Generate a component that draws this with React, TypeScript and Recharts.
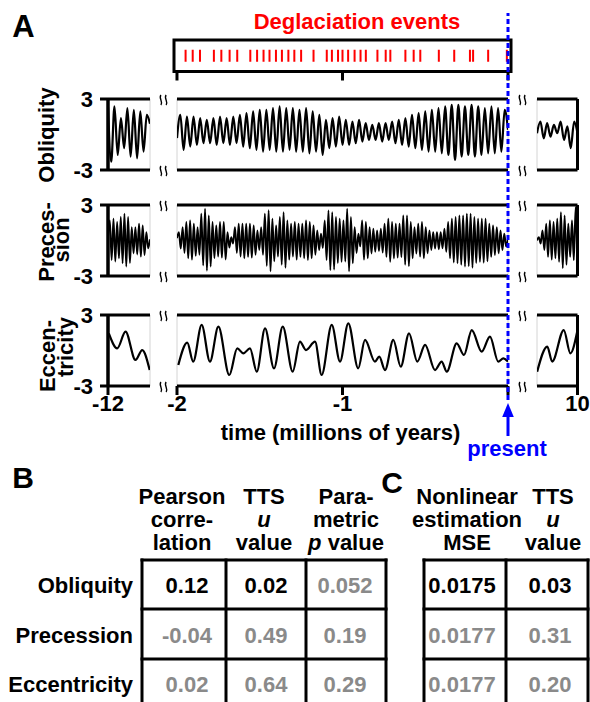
import React from "react";
import {
  LineChart,
  Line,
  ScatterChart,
  Scatter,
  XAxis,
  YAxis,
  ReferenceLine,
  ReferenceArea,
} from "recharts";

const FONT = "'Liberation Sans', Arial, Helvetica, sans-serif";
const GRAY = "#8a8a8a";
const BLUE = "#0000ff";
const RED = "#ff0000";

// successive peaks / troughs (standardised units)
const obliquityEarly = [2.3, -2.3, 2.37, -1.73, 1.38, -1.16, 2.23, -1.87, 2.09, -2.01, 1.95, -1.45, 1.67, 0.9];
const obliquityRecent = [
  -0.3,
  1.67, -1.3, 1.52, -1.02, 1.52, -0.88, 1.38, -0.74, 1.24, -0.74, 1.38, -0.88, 1.52, -0.74, 1.38, -0.88,
  1.52, -0.74, 1.67, -1.02, 1.81, -1.16, 1.95, -1.3, 2.09, -1.45, 2.09, -1.3, 2.23, -1.45, 2.37, -1.45,
  2.23, -1.3, 2.23, -1.45, 2.09, -1.45, 2.23, -1.59, 1.95, -1.45, 1.67, -1.73, 1.24, -1.16, 1.38, -1.02,
  1.52, -0.88, 1.24, -0.88, 1.1, -0.74, 1.24, -0.6, 0.96, -0.46, 0.82, -0.46, 0.96, -0.6, 0.96, -0.46,
  1.1, -0.74, 1.24, -0.88, 1.38, -1.02, 1.67, -1.16, 1.81, -1.3, 1.95, -1.45, 2.09, -1.45, 2.23, -1.59,
  2.37, -1.73, 2.51, -2.15, 2.51, -1.87, 2.37, -1.73, 2.51, -1.87, 2.37, -1.73, 2.23, -1.59, 2.37, -1.59,
  2.23, -1.45, 2.09, 0.4,
];
const obliquityFuture = [0.11, 1.1, -0.32, 0.96, -0.18, 0.82, 0.11, 1.1, -0.46, 0.68, -1.16, 1.1, 0.11];

const precessionEarly = [
  0.3, 1.7, -1.65, 1.84, -1.78, 1.56, -1.5, 1.98, -1.92, 2.26, -2.2, 1.98, -1.9, 1.13, -1.1, 1.13, -1.18,
  1.42, -1.36, 1.27, -1.22, 0.71, -0.66, 0.1,
];
const precessionRecent = [
  0.2,
  0.71, -0.68, 1.13, -1.05, 1.56, -1.5, 1.7, -1.62, 1.42, -1.3, 1.13, -1.2, 2.26, -2.1, 2.69, -2.55,
  2.12, -2.2, 1.56, -1.48, 1.27, -1.35, 1.56, -1.45, 1.56, -1.6, 0.71, -0.6, 0.28, -0.25, 1.13, -1.05,
  1.42, -1.35, 1.42, -1.5, 1.42, -1.38, 1.42, -1.45, 1.27, -1.2, 0.85, -0.8, 1.13, -1.2, 2.26, -2.15,
  2.55, -2.6, 1.84, -1.75, 1.27, -1.35, 1.98, -2.05, 2.4, -2.3, 1.7, -1.62,
  1.42, -1.35, 1.56, -1.62, 1.42, -1.38, 1.42, -1.5, 1.7, -1.65, 1.56, -1.5, 1.27, -1.2, 0.85, -0.8,
  0.57, -0.62, 1.7, -1.65, 2.55, -2.5, 2.4, -2.45, 1.98, -1.9, 1.84, -1.8, 1.7, -1.78, 2.69, -2.6,
  1.98, -1.92, 1.13, -1.05, 0.57, -0.5, 1.7, -1.62, 1.56, -1.5, 1.13, -1.1, 0.99, -0.95, 0.85, -0.9,
  0.99, -1.02, 1.42, -1.38, 1.84, -1.8, 1.56, -1.52, 1.42, -1.45, 1.42, -1.4, 2.12, -2.05, 2.12, -2.18,
  1.56, -1.5, 1.13, -1.1, 1.42, -1.36, 1.56, -1.5, 1.13, -1.08, 0.85, -0.8, 0.71, -0.68, 0.71, -0.74,
  0.71, -0.66, 0.99, -0.95, 1.56, -1.5, 1.84, -1.86, 1.98, -1.92, 2.12, -2.06, 2.12, -2.2, 2.26, -2.18,
  2.26, -2.3, 1.98, -1.9, 1.84, -1.8, 1.84, -1.88, 1.84, -1.76, 1.42, -1.38, 1.27, -1.22, 1.13, -1.08,
  0.85, -0.8, 0.57, -0.5, 0.2,
];
const precessionFuture = [
  0.0, 0.28, -0.25, 0.85, -0.8, 1.42, -1.38, 1.7, -1.62, 1.56, -1.5, 1.84, -1.8, 2.4, -2.35, 2.12, -2.05,
  1.42, -1.38, 1.7, -1.66, 2.83, -2.75,
];

const eccEarlyTimes = [-11.995, -11.944, -11.894, -11.834, -11.793, -11.748];
const eccEarly = [1.45, 0.18, 1.59, -0.8, 0.04, -1.65];
const eccRecentTimes = [
  -1.992, -1.938, -1.902, -1.851, -1.801, -1.75, -1.684, -1.636, -1.599, -1.559, -1.518, -1.468, -1.414,
  -1.361, -1.301, -1.257, -1.221, -1.166, -1.126, -1.065, -1.015, -0.965, -0.905, -0.864, -0.804, -0.778,
  -0.743, -0.693, -0.648, -0.598, -0.548, -0.501, -0.441, -0.401, -0.37, -0.31, -0.266, -0.219, -0.159,
  -0.109, -0.059, -0.028, 0.0,
];
const eccRecent = [
  -1.23, 0.66, -0.94, 2.16, -0.94, 2.01, -2.07, 0.18, -0.24, 0.18, -1.79, 1.87, -1.51, 2.01, -1.79, 0.75,
  0.04, 0.75, -2.07, 2.16, -0.94, 2.3, -1.51, 0.89, -0.94, -0.52, -1.65, 0.89, -1.37, 1.45, -0.94, 0.47,
  -1.65, -0.94, -1.79, 0.61, -0.38, 1.73, -0.1, 1.17, -0.94, -0.66, -0.94,
];
const eccFutureTimes = [9.756, 9.817, 9.847, 9.917, 9.957, 9.998];
const eccFuture = [-1.79, 0.33, -0.94, 1.73, -0.24, 1.59];

// deglaciation events (millions of years)
const deglaciationEvents = [
  -1.948, -1.905, -1.861, -1.777, -1.732, -1.682, -1.636, -1.557, -1.516, -1.477, -1.441, -1.402, -1.366,
  -1.327, -1.291, -1.25, -1.175, -1.095, -1.064, -1.027, -1.0, -0.966, -0.927, -0.891, -0.859, -0.789,
  -0.739, -0.711, -0.62, -0.57, -0.53, -0.418, -0.325, -0.23, -0.211, -0.12, -0.007,
];
const presentTime = 0;

// tables B and C
const rowNames = ["Obliquity", "Precession", "Eccentricity"];
const headersB = [
  ["Pearson", "corre-", "lation"],
  ["TTS", "*u*", "value"],
  ["Para-", "metric", "*p* value"],
];
const headersC = [
  ["Nonlinear", "estimation", "MSE"],
  ["TTS", "*u*", "value"],
];
const pearson = ["0.12", "-0.04", "0.02"];
const ttsB = ["0.02", "0.49", "0.64"];
const parametricP = ["0.052", "0.19", "0.29"];
const nonlinearMse = ["0.0175", "0.0177", "0.0177"];
const ttsC = ["0.03", "0.31", "0.20"];
const significantB = [[true, false, false], [true, false, false], [false, false, false]];
const significantC = [[true, false, false], [true, false, false]];

const PAD = 16;
const LEFT = { x: 107.5, w: 42 };
const MAIN = { x: 177, w: 331 };
const RIGHT = { x: 536.5, w: 40.5 };
const ROW_TOP = [99, 205, 315];
const ROW_H = 71;

type Pt = { x: number; y: number };
const indexed = (vals: number[]): Pt[] => vals.map((y, x) => ({ x, y }));
const timed = (ts: number[], vals: number[]): Pt[] => ts.map((x, i) => ({ x, y: vals[i] }));

const tickStyle = { fill: "#000", fontSize: 22, fontWeight: "bold", fontFamily: FONT };
const blackLine = { stroke: "#000", strokeWidth: 3 };

type PanelProps = {
  data: Pt[];
  domain: [number, number];
  left: number;
  top: number;
  width: number;
  yAxis?: boolean;
  rightAxis?: boolean;
  ticks?: number[];
  lineWidth?: number;
};

function Panel({ data, domain, left, top, width, yAxis, rightAxis, ticks, lineWidth = 2.2 }: PanelProps) {
  const yw = yAxis ? 56 : 0;
  const xh = ticks ? 34 : 0;
  const margin = { top: PAD, right: PAD, bottom: PAD, left: yAxis ? 4 : PAD };
  return (
    <div style={{ position: "absolute", left: left - yw - margin.left, top: top - margin.top }}>
      <LineChart
        width={width + yw + margin.left + margin.right}
        height={ROW_H + xh + margin.top + margin.bottom}
        data={data}
        margin={margin}
      >
        <XAxis
          type="number"
          dataKey="x"
          domain={domain}
          allowDataOverflow
          hide={!ticks}
          ticks={ticks}
          interval={0}
          height={xh}
          tickSize={9}
          tickMargin={0}
          axisLine={false}
          tickLine={blackLine}
          tick={tickStyle}
          tickFormatter={(v: number) => (v === 0 ? "" : String(v))}
        />
        <YAxis
          type="number"
          domain={[-3, 3]}
          allowDataOverflow
          hide={!yAxis}
          ticks={[-3, 3]}
          interval={0}
          width={yw}
          tickSize={8}
          tickMargin={7}
          axisLine={blackLine}
          tickLine={blackLine}
          tick={tickStyle}
        />
        <ReferenceLine x={domain[0]} stroke={yAxis ? "#000" : "#d4d4d4"} strokeWidth={yAxis ? 3 : 1} />
        <ReferenceLine x={domain[1]} stroke={rightAxis ? "#000" : "#d4d4d4"} strokeWidth={rightAxis ? 3 : 1} />
        <Line type="monotone" dataKey="y" stroke="#000" strokeWidth={lineWidth} dot={false} isAnimationActive={false} />
        <ReferenceLine y={3} {...blackLine} />
        <ReferenceLine y={-3} {...blackLine} />
      </LineChart>
    </div>
  );
}

function EventTick(props: any) {
  const { cx, cy } = props;
  return <line x1={cx} x2={cx} y1={cy - 6} y2={cy + 6} stroke={RED} strokeWidth={2} />;
}

function BreakMark({ x, y }: { x: number; y: number }) {
  return (
    <g stroke="#000" strokeWidth={1.4} fill="none">
      <path d={`M${x - 2.6},${y - 5} C${x - 5.2},${y - 1.5} ${x},${y + 1.5} ${x - 2.6},${y + 5}`} />
      <path d={`M${x + 2.6},${y - 5} C${x},${y - 1.5} ${x + 5.2},${y + 1.5} ${x + 2.6},${y + 5}`} />
    </g>
  );
}

function Rich({ s }: { s: string }) {
  return (
    <>
      {s.split("*").map((p, i) => (
        <tspan key={i} fontStyle={i % 2 ? "italic" : "normal"}>
          {p}
        </tspan>
      ))}
    </>
  );
}

function Grid({ xs, ys }: { xs: number[]; ys: number[] }) {
  return (
    <g stroke="#000" strokeWidth={3} strokeLinecap="square">
      {xs.map((x) => (
        <line key={"v" + x} x1={x} x2={x} y1={ys[0]} y2={ys[ys.length - 1]} />
      ))}
      {ys.map((y) => (
        <line key={"h" + y} x1={xs[0]} x2={xs[xs.length - 1]} y1={y} y2={y} />
      ))}
    </g>
  );
}

const boxDomain: [number, number] = [-2.018, 0.018];
const eventData = deglaciationEvents.map((t) => ({ t, v: 0 }));
const presentLine = [
  { t: presentTime, v: 0 },
  { t: presentTime, v: 1 },
];

const rows = [
  { early: indexed(obliquityEarly), recent: indexed(obliquityRecent), future: indexed(obliquityFuture), lw: 2.2 },
  { early: indexed(precessionEarly), recent: indexed(precessionRecent), future: indexed(precessionFuture), lw: 1.9 },
  { early: timed(eccEarlyTimes, eccEarly), recent: timed(eccRecentTimes, eccRecent), future: timed(eccFutureTimes, eccFuture), lw: 2.2 },
];

const headerBaselines = [504, 527, 550];
const rowBaselines = [593, 643, 692];
const headerXB = [182, 264, 346];
const valueXB = [187, 266, 345];
const headerXC = [467, 553];
const valueXC = [462, 550];
const valuesB = [pearson, ttsB, parametricP];
const valuesC = [nonlinearMse, ttsC];

export default function App() {
  return (
    <div
      style={{
        position: "absolute",
        left: 0,
        top: 0,
        width: 590,
        height: 702,
        overflow: "hidden",
        background: "#fff",
        fontFamily: FONT,
      }}
    >
      {/* deglaciation events strip */}
      <div style={{ position: "absolute", left: 174 - PAD, top: 39.5 - PAD }}>
        <ScatterChart width={337 + 2 * PAD} height={31.5 + 12 + 2 * PAD} margin={{ top: PAD, right: PAD, bottom: PAD, left: PAD }}>
          <XAxis
            type="number"
            dataKey="t"
            domain={boxDomain}
            allowDataOverflow
            ticks={[-2, -1, 0]}
            interval={0}
            height={12}
            tickSize={9}
            axisLine={false}
            tickLine={blackLine}
            tick={tickStyle}
            tickFormatter={() => ""}
          />
          <YAxis type="number" dataKey="v" domain={[-1, 1]} hide />
          <ReferenceArea x1={boxDomain[0]} x2={boxDomain[1]} y1={-1} y2={1} fill="none" fillOpacity={0} stroke="#000" strokeWidth={3} />
          <Scatter data={eventData} shape={EventTick} isAnimationActive={false} />
        </ScatterChart>
      </div>

      {rows.map((r, i) => {
        const isEcc = i === 2;
        return (
          <React.Fragment key={i}>
            <Panel
              data={r.early}
              domain={isEcc ? [-12, -11.746] : [0, r.early.length - 1]}
              left={LEFT.x}
              top={ROW_TOP[i]}
              width={LEFT.w}
              yAxis
              ticks={isEcc ? [-12] : undefined}
              lineWidth={r.lw}
            />
            <Panel
              data={r.recent}
              domain={isEcc ? [-2, 0] : [0, r.recent.length - 1]}
              left={MAIN.x}
              top={ROW_TOP[i]}
              width={MAIN.w}
              ticks={isEcc ? [-2, -1, 0] : undefined}
              lineWidth={r.lw}
            />
            <Panel
              data={r.future}
              domain={isEcc ? [9.755, 10] : [0, r.future.length - 1]}
              left={RIGHT.x}
              top={ROW_TOP[i]}
              width={RIGHT.w}
              rightAxis
              ticks={isEcc ? [10] : undefined}
              lineWidth={r.lw}
            />
          </React.Fragment>
        );
      })}

      {/* present marker */}
      <div style={{ position: "absolute", left: MAIN.x - PAD, top: 13 - PAD }}>
        <LineChart width={MAIN.w + 2 * PAD} height={387 + 2 * PAD} data={presentLine} margin={{ top: PAD, right: PAD, bottom: PAD, left: PAD }}>
          <XAxis type="number" dataKey="t" domain={[-2, 0]} hide />
          <YAxis type="number" domain={[0, 1]} hide />
          <Line
            type="linear"
            dataKey="v"
            stroke={BLUE}
            strokeWidth={3}
            strokeDasharray="5 3"
            dot={false}
            isAnimationActive={false}
          />
        </LineChart>
      </div>

      <svg
        width={590}
        height={702}
        style={{ position: "absolute", left: 0, top: 0 }}
        fontFamily={FONT}
        fontWeight="bold"
      >
        <text x={23.5} y={37} fontSize={31} textAnchor="middle">A</text>
        <text x={357} y={28.5} fontSize={22} textAnchor="middle" fill={RED}>Deglaciation events</text>

        <text transform="translate(54,135) rotate(-90)" fontSize={22} textAnchor="middle">Obliquity</text>
        <text transform="translate(53.5,242) rotate(-90)" fontSize={22} textAnchor="middle">Preces-</text>
        <text transform="translate(69,240) rotate(-90)" fontSize={22} textAnchor="middle">sion</text>
        <text transform="translate(55,356) rotate(-90)" fontSize={22} textAnchor="middle">Eccen-</text>
        <text transform="translate(73,347) rotate(-90)" fontSize={22} textAnchor="middle">tricity</text>

        {ROW_TOP.map((t) => (
          <g key={t}>
            <BreakMark x={163.5} y={t + 1} />
            <BreakMark x={163.5} y={t + ROW_H + 1} />
            <BreakMark x={522.5} y={t + 1} />
            <BreakMark x={522.5} y={t + ROW_H + 1} />
          </g>
        ))}

        <text x={340.5} y={440} fontSize={22} textAnchor="middle">time (millions of years)</text>

        <path d="M508,403 L513.8,417 L502.2,417 Z" fill={BLUE} />
        <line x1={508} x2={508} y1={415} y2={436} stroke={BLUE} strokeWidth={3} />
        <text x={507} y={456} fontSize={22} textAnchor="middle" fill={BLUE}>present</text>

        <text x={23} y={488} fontSize={30} textAnchor="middle">B</text>
        <text x={392} y={493} fontSize={30} textAnchor="middle">C</text>

        {headersB.map((lines, c) =>
          lines.map((l, k) => (
            <text key={`hb${c}${k}`} x={headerXB[c]} y={headerBaselines[k]} fontSize={22} textAnchor="middle">
              <Rich s={l} />
            </text>
          ))
        )}
        {headersC.map((lines, c) =>
          lines.map((l, k) => (
            <text key={`hc${c}${k}`} x={headerXC[c]} y={headerBaselines[k]} fontSize={22} textAnchor="middle">
              <Rich s={l} />
            </text>
          ))
        )}

        {rowNames.map((n, r) => (
          <text key={n} x={133} y={rowBaselines[r]} fontSize={22} textAnchor="end">{n}</text>
        ))}

        {valuesB.map((col, c) =>
          col.map((v, r) => (
            <text
              key={`vb${c}${r}`}
              x={valueXB[c]}
              y={rowBaselines[r]}
              fontSize={22}
              textAnchor="middle"
              fill={significantB[c][r] ? "#000" : GRAY}
            >
              {v}
            </text>
          ))
        )}
        {valuesC.map((col, c) =>
          col.map((v, r) => (
            <text
              key={`vc${c}${r}`}
              x={valueXC[c]}
              y={rowBaselines[r]}
              fontSize={22}
              textAnchor="middle"
              fill={significantC[c][r] ? "#000" : GRAY}
            >
              {v}
            </text>
          ))
        )}

        <Grid xs={[142, 226, 306, 386]} ys={[560, 609, 659, 709]} />
        <Grid xs={[424, 506, 588]} ys={[560, 609, 659, 709]} />
      </svg>
    </div>
  );
}
